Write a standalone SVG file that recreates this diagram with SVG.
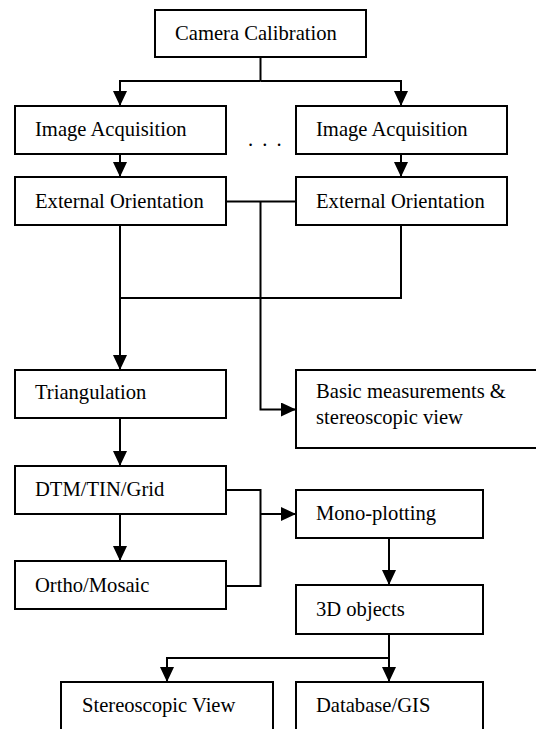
<svg xmlns="http://www.w3.org/2000/svg" width="536" height="729" viewBox="0 0 536 729" font-family="Liberation Serif, Times New Roman, serif" font-size="20.6">
<style>
.box{fill:#fff;stroke:#000;stroke-width:2}
.c{fill:none;stroke:#000;stroke-width:2}
</style>
<defs>
<marker id="ah" markerUnits="userSpaceOnUse" markerWidth="15" markerHeight="14" refX="15" refY="7" orient="auto" viewBox="0 0 15 14">
<path d="M0,0 L15,7 L0,14 z" fill="#000"/>
</marker>
</defs>
<rect width="536" height="729" fill="#fff"/>
<g id="connectors">
<path class="c" d="M260.5,57 V81"/>
<path class="c" d="M260.5,81 H120 V106" marker-end="url(#ah)"/>
<path class="c" d="M260.5,81 H401 V106" marker-end="url(#ah)"/>
<path class="c" d="M120,154 V177" marker-end="url(#ah)"/>
<path class="c" d="M401,154 V177" marker-end="url(#ah)"/>
<path class="c" d="M226,201.5 H296"/>
<path class="c" d="M260.5,201.5 V409.5 H296" marker-end="url(#ah)"/>
<path class="c" d="M120,225 V370" marker-end="url(#ah)"/>
<path class="c" d="M401,225 V298 H120"/>
<path class="c" d="M120,418 V466" marker-end="url(#ah)"/>
<path class="c" d="M120,514 V561" marker-end="url(#ah)"/>
<path class="c" d="M226,490 H260.5 V586 H226"/>
<path class="c" d="M260.5,514 H296" marker-end="url(#ah)"/>
<path class="c" d="M389,538 V585" marker-end="url(#ah)"/>
<path class="c" d="M389,634 V682" marker-end="url(#ah)"/>
<path class="c" d="M389,658 H167 V682" marker-end="url(#ah)"/>
</g>
<g id="camera-calibration"><rect class="box" x="155" y="10" width="211" height="47"/><text x="175" y="40" font-family="Liberation Serif" font-size="20.6">Camera Calibration</text></g>
<g id="image-acquisition-1"><rect class="box" x="15" y="106" width="211" height="48"/><text x="35" y="136" font-family="Liberation Serif" font-size="20.6">Image Acquisition</text></g>
<g id="image-acquisition-2"><rect class="box" x="296" y="106" width="211" height="48"/><text x="316" y="136" font-family="Liberation Serif" font-size="20.6">Image Acquisition</text></g>
<g id="ellipsis"><text x="248" y="146" letter-spacing="2" font-family="Liberation Serif" font-size="20.6">. . .</text></g>
<g id="external-orientation-1"><rect class="box" x="15" y="177" width="211" height="48"/><text x="35" y="208" font-family="Liberation Serif" font-size="20.6">External Orientation</text></g>
<g id="external-orientation-2"><rect class="box" x="296" y="177" width="211" height="48"/><text x="316" y="208" font-family="Liberation Serif" font-size="20.6">External Orientation</text></g>
<g id="triangulation"><rect class="box" x="15" y="370" width="211" height="48"/><text x="35" y="399" font-family="Liberation Serif" font-size="20.6">Triangulation</text></g>
<g id="basic-measurements"><rect class="box" x="296" y="370" width="260" height="78"/><text x="316" y="398" font-family="Liberation Serif" font-size="20.6">Basic measurements &amp;</text><text x="316" y="424" font-family="Liberation Serif" font-size="20.6">stereoscopic view</text></g>
<g id="dtm"><rect class="box" x="15" y="466" width="211" height="48"/><text x="35" y="496" font-family="Liberation Serif" font-size="20.6">DTM/TIN/Grid</text></g>
<g id="ortho"><rect class="box" x="15" y="561" width="211" height="48"/><text x="35" y="592" font-family="Liberation Serif" font-size="20.6">Ortho/Mosaic</text></g>
<g id="mono-plotting"><rect class="box" x="296" y="490" width="187" height="48"/><text x="316" y="520" font-family="Liberation Serif" font-size="20.6">Mono-plotting</text></g>
<g id="objects-3d"><rect class="box" x="296" y="585" width="187" height="49"/><text x="316" y="616" font-family="Liberation Serif" font-size="20.6">3D objects</text></g>
<g id="stereoscopic-view"><rect class="box" x="61" y="682" width="212" height="100"/><text x="82" y="712" font-family="Liberation Serif" font-size="20.6">Stereoscopic View</text></g>
<g id="database-gis"><rect class="box" x="296" y="682" width="187" height="100"/><text x="316" y="712" font-family="Liberation Serif" font-size="20.6">Database/GIS</text></g>
</svg>
